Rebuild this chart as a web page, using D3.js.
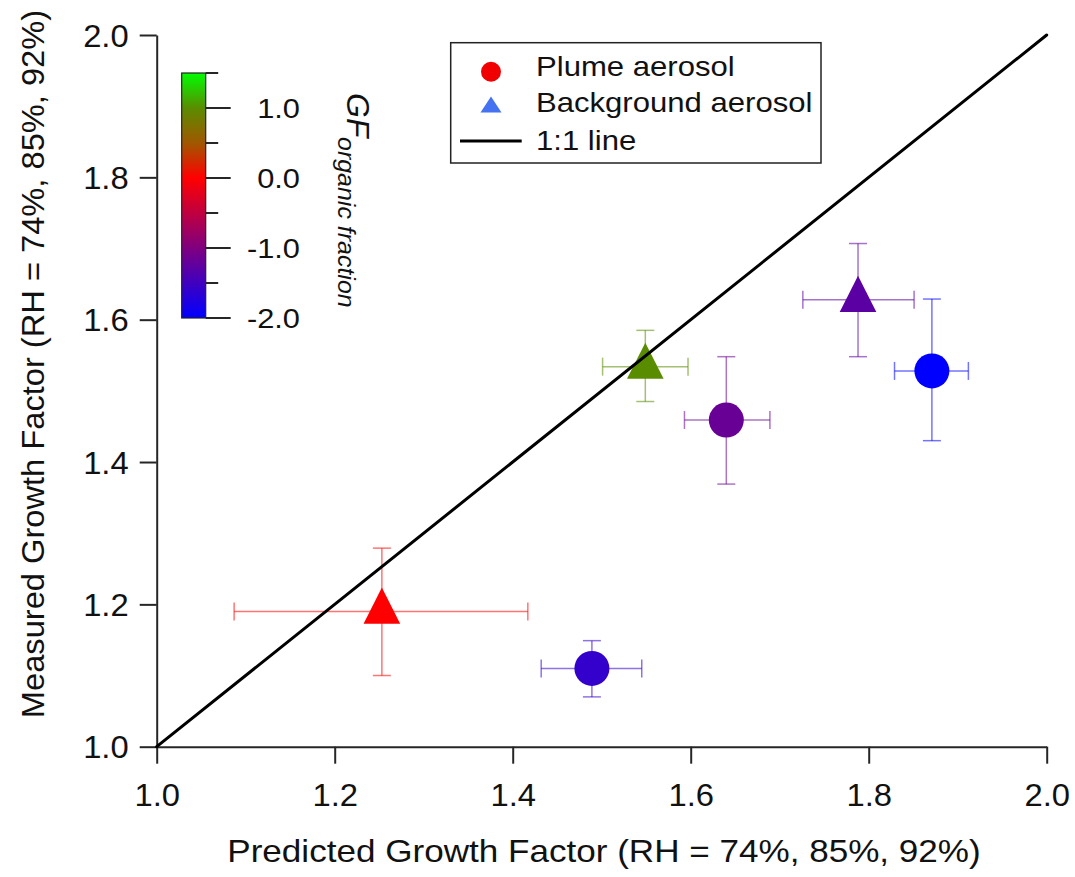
<!DOCTYPE html>
<html>
<head>
<meta charset="utf-8">
<script src="https://cdn.jsdelivr.net/npm/d3@7"></script>
<style>
  html, body { margin: 0; padding: 0; background: #fff; }
  svg { display: block; font-family: "Liberation Sans", Arial, Helvetica, sans-serif; }
</style>
</head>
<body>
<svg id="chart" width="1075" height="877"></svg>
<script>
// ---------- data ----------
const predicted   = [1.253, 1.489, 1.549, 1.640, 1.788, 1.871];
const measured    = [1.190, 1.110, 1.534, 1.459, 1.628, 1.528];
const predLow     = [1.087, 1.432, 1.501, 1.593, 1.726, 1.829];
const predHigh    = [1.417, 1.545, 1.597, 1.689, 1.851, 1.912];
const measLow     = [1.100, 1.070, 1.485, 1.369, 1.548, 1.430];
const measHigh    = [1.279, 1.149, 1.585, 1.548, 1.707, 1.629];
const aerosolType = ["Background", "Plume", "Background", "Plume", "Background", "Plume"];
const gfOrganic   = [0.0, -1.6, 1.0, -1.17, -1.28, -2.0];

const axisTicks     = [1.0, 1.2, 1.4, 1.6, 1.8, 2.0];
const cbMajorTicks  = [1.0, 0.0, -1.0, -2.0];
const cbMinorTicks  = [1.5, 0.5, -0.5, -1.5];
const cbStops       = [-2.0, -1.0, 0.0, 0.5, 1.0, 1.5];
const cbStopColors  = ["#0000ff", "#7f007f", "#ff0000", "#a05800", "#5a8c00", "#00ff00"];
const legendLabels  = ["Plume aerosol", "Background aerosol", "1:1 line"];
const xTitle = "Predicted Growth Factor (RH = 74%, 85%, 92%)";
const yTitle = "Measured Growth Factor (RH = 74%, 85%, 92%)";

// ---------- layout ----------
const svg = d3.select("#chart");
const plot = { left: 156.7, right: 1046.7, top: 35, bottom: 746.7 };
const x = d3.scaleLinear().domain([1, 2]).range([plot.left, plot.right]);
const y = d3.scaleLinear().domain([1, 2]).range([plot.bottom, plot.top]);
const color = d3.scaleLinear().domain(cbStops).range(cbStopColors).clamp(true);
const axisColor = "#262626";

function stretch(sel, factor) {
  sel.each(function () {
    const L = this.getComputedTextLength();
    this.setAttribute("textLength", L * factor);
    this.setAttribute("lengthAdjust", "spacingAndGlyphs");
  });
}

// ---------- axes ----------
const fmt = v => v.toFixed(1);   // plain hyphen minus, as in the reference
const gx = svg.append("g").attr("transform", `translate(0,${plot.bottom})`)
  .call(d3.axisBottom(x).tickValues(axisTicks).tickFormat(fmt).tickSize(17).tickSizeOuter(0).tickPadding(0));
const gy = svg.append("g").attr("transform", `translate(${plot.left},0)`)
  .call(d3.axisLeft(y).tickValues(axisTicks).tickFormat(fmt).tickSize(17).tickSizeOuter(0).tickPadding(0));
[gx, gy].forEach(g => {
  g.select(".domain").attr("stroke", axisColor).attr("stroke-width", 2);
  g.selectAll(".tick line").attr("stroke", axisColor).attr("stroke-width", 2);
  g.selectAll(".tick text").attr("fill", "#111").attr("font-size", 31.5)
    .attr("font-family", '"Liberation Sans", Arial, sans-serif');
});
gx.selectAll(".tick text").attr("dy", null).attr("y", 59);
gy.selectAll(".tick text").attr("dy", null).attr("x", -28).attr("y", 11);
stretch(gx.selectAll(".tick text"), 1.04);
stretch(gy.selectAll(".tick text"), 1.04);

// axis titles
const xt = svg.append("text").attr("x", (227 + 981) / 2).attr("y", 862)
  .attr("text-anchor", "middle").attr("font-size", 30.5).attr("fill", "#111").text(xTitle);
stretch(xt, 1.15);
const yt = svg.append("text").attr("transform", `translate(44,364) rotate(-90)`)
  .attr("text-anchor", "middle").attr("font-size", 30.5).attr("fill", "#111").text(yTitle);
stretch(yt, 1.07);

// ---------- error bars ----------
const idx = d3.range(predicted.length);
const capHalf = 9;
const eb = svg.append("g").attr("fill", "none").attr("stroke-width", 1.5).attr("stroke-opacity", 0.55);
idx.forEach(i => {
  const c = color(gfOrganic[i]);
  const g = eb.append("g").attr("stroke", c);
  const cx = x(predicted[i]), cy = y(measured[i]);
  g.append("line").attr("x1", x(predLow[i])).attr("x2", x(predHigh[i])).attr("y1", cy).attr("y2", cy);
  g.append("line").attr("x1", x(predLow[i])).attr("x2", x(predLow[i])).attr("y1", cy - capHalf).attr("y2", cy + capHalf);
  g.append("line").attr("x1", x(predHigh[i])).attr("x2", x(predHigh[i])).attr("y1", cy - capHalf).attr("y2", cy + capHalf);
  g.append("line").attr("x1", cx).attr("x2", cx).attr("y1", y(measLow[i])).attr("y2", y(measHigh[i]));
  g.append("line").attr("x1", cx - capHalf).attr("x2", cx + capHalf).attr("y1", y(measLow[i])).attr("y2", y(measLow[i]));
  g.append("line").attr("x1", cx - capHalf).attr("x2", cx + capHalf).attr("y1", y(measHigh[i])).attr("y2", y(measHigh[i]));
});

// ---------- markers ----------
const triPath = (cx, cy, hw, up, down) => `M${cx},${cy - up}L${cx + hw},${cy + down}L${cx - hw},${cy + down}Z`;
const mk = svg.append("g");
idx.forEach(i => {
  const cx = x(predicted[i]), cy = y(measured[i]);
  if (aerosolType[i] === "Plume") {
    mk.append("circle").attr("cx", cx).attr("cy", cy).attr("r", 17.5).attr("fill", color(gfOrganic[i]));
  } else {
    mk.append("path").attr("d", triPath(cx, cy, 18.3, 24, 12.2)).attr("fill", color(gfOrganic[i]));
  }
});

// ---------- 1:1 line ----------
svg.append("line").attr("x1", x(1)).attr("y1", y(1)).attr("x2", x(2)).attr("y2", y(2))
  .attr("stroke", "#000").attr("stroke-width", 3).attr("stroke-linecap", "round");

// ---------- colour bar ----------
const cb = { x0: 181.7, x1: 205.7 };
const cy = d3.scaleLinear().domain([-2, 1.5]).range([318, 73]);
const defs = svg.append("defs");
const grad = defs.append("linearGradient").attr("id", "cbGrad")
  .attr("x1", 0).attr("x2", 0).attr("y1", 1).attr("y2", 0);
cbStops.forEach((s, k) => {
  grad.append("stop").attr("offset", (s - cbStops[0]) / (cbStops[cbStops.length - 1] - cbStops[0]))
    .attr("stop-color", cbStopColors[k]);
});
svg.append("rect").attr("x", cb.x0).attr("y", cy(1.5)).attr("width", cb.x1 - cb.x0)
  .attr("height", cy(-2) - cy(1.5)).attr("fill", "url(#cbGrad)")
  .attr("stroke", "#222").attr("stroke-width", 1.2);
const cbt = svg.append("g").attr("stroke", axisColor).attr("stroke-width", 2);
cbMajorTicks.forEach(v => cbt.append("line").attr("x1", cb.x1).attr("x2", cb.x1 + 25).attr("y1", cy(v)).attr("y2", cy(v)));
cbMinorTicks.forEach(v => cbt.append("line").attr("x1", cb.x1).attr("x2", cb.x1 + 12.5).attr("y1", cy(v)).attr("y2", cy(v)));
const cbl = svg.append("g").selectAll("text").data(cbMajorTicks).join("text")
  .attr("x", 300).attr("y", v => cy(v) + 10).attr("text-anchor", "end")
  .attr("font-size", 28.5).attr("fill", "#111").text(v => fmt(v));
stretch(cbl, 1.08);

// colour bar label (rotated)
svg.append("text").attr("transform", "translate(346.5,93) rotate(90)")
  .attr("font-size", 32).attr("font-style", "italic").attr("fill", "#111").text("GF");
const sub = svg.append("text").attr("transform", "translate(338,137) rotate(90)")
  .attr("font-size", 24).attr("font-style", "italic").attr("fill", "#111").text("organic fraction");
stretch(sub, 1.04);

// ---------- legend ----------
const lg = svg.append("g");
lg.append("rect").attr("x", 450.7).attr("y", 42.7).attr("width", 821 - 450.7).attr("height", 163 - 42.7)
  .attr("fill", "#fff").attr("stroke", "#222").attr("stroke-width", 1.5);
lg.append("circle").attr("cx", 491).attr("cy", 71.7).attr("r", 10).attr("fill", "#f00000");
lg.append("path").attr("d", triPath(491, 105.5, 10.5, 9, 7)).attr("fill", "#4472f0");
lg.append("line").attr("x1", 460).attr("x2", 521.7).attr("y1", 141).attr("y2", 141)
  .attr("stroke", "#000").attr("stroke-width", 3);
const lt = lg.selectAll("text.lab").data(legendLabels).join("text").attr("class", "lab")
  .attr("x", 536).attr("y", (d, k) => [75.7, 112.3, 150][k])
  .attr("font-size", 27.5).attr("fill", "#111").text(d => d);
stretch(lt, 1.13);
</script>
</body>
</html>
